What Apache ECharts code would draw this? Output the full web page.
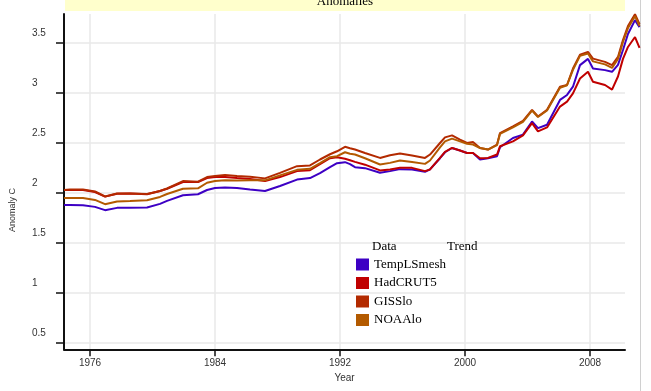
<!DOCTYPE html>
<html>
<head>
<meta charset="utf-8">
<script src="https://cdn.jsdelivr.net/npm/echarts@6/dist/echarts.min.js"></script>
<style>html,body{margin:0;padding:0;background:#fff}#c{width:651px;height:391px}</style>
</head>
<body>
<div id="c"></div>
<script>
const years = [1974.34,1974.72,1975.55,1976.32,1976.96,1977.73,1978.56,1979.65,1980.48,1980.93,1981.95,1982.91,1983.49,1984.00,1984.64,1985.41,1986.24,1987.20,1988.16,1989.25,1990.08,1990.72,1991.36,1991.81,1992.32,1992.64,1992.96,1993.60,1994.56,1995.20,1995.84,1996.61,1997.44,1997.76,1998.40,1998.72,1999.17,1999.68,2000.13,2000.51,2000.96,2001.47,2002.05,2002.24,2003.07,2003.71,2004.29,2004.67,2005.25,2006.08,2006.53,2006.91,2007.36,2007.87,2008.19,2008.96,2009.41,2009.79,2010.11,2010.43,2010.88,2011.17];
const tempLSmesh = [1.887,1.887,1.884,1.867,1.834,1.857,1.857,1.860,1.897,1.927,1.984,1.994,2.037,2.057,2.062,2.057,2.042,2.027,2.077,2.142,2.157,2.207,2.267,2.307,2.317,2.297,2.267,2.257,2.210,2.227,2.247,2.244,2.220,2.244,2.357,2.417,2.460,2.434,2.410,2.410,2.344,2.357,2.377,2.467,2.560,2.594,2.727,2.660,2.694,2.944,2.994,3.077,3.294,3.357,3.260,3.244,3.227,3.297,3.447,3.607,3.747,3.677];
const hadCRUT5 = [2.037,2.037,2.037,2.017,1.970,2.000,2.002,1.994,2.027,2.050,2.117,2.117,2.157,2.167,2.167,2.157,2.147,2.127,2.167,2.227,2.237,2.297,2.357,2.367,2.352,2.337,2.320,2.292,2.234,2.244,2.260,2.260,2.227,2.244,2.360,2.422,2.460,2.434,2.410,2.410,2.357,2.360,2.394,2.477,2.527,2.587,2.710,2.627,2.667,2.877,2.927,3.010,3.160,3.227,3.127,3.094,3.047,3.180,3.357,3.477,3.577,3.467];
const gisslo = [2.037,2.042,2.042,2.022,1.972,2.002,2.002,1.997,2.027,2.052,2.127,2.120,2.167,2.177,2.187,2.177,2.170,2.154,2.210,2.277,2.284,2.344,2.397,2.427,2.472,2.457,2.444,2.410,2.360,2.387,2.404,2.384,2.360,2.394,2.510,2.567,2.587,2.544,2.510,2.520,2.460,2.444,2.494,2.610,2.677,2.734,2.844,2.777,2.844,3.077,3.094,3.260,3.400,3.427,3.360,3.327,3.294,3.377,3.547,3.687,3.807,3.707];
const noaalo = [1.957,1.957,1.957,1.937,1.894,1.922,1.927,1.934,1.967,1.997,2.050,2.054,2.110,2.127,2.134,2.132,2.134,2.134,2.184,2.240,2.250,2.307,2.367,2.377,2.417,2.402,2.394,2.357,2.294,2.310,2.334,2.320,2.300,2.334,2.467,2.527,2.554,2.527,2.502,2.494,2.460,2.444,2.489,2.602,2.667,2.724,2.837,2.772,2.837,3.067,3.092,3.247,3.387,3.412,3.332,3.302,3.267,3.357,3.527,3.667,3.787,3.687];
const seriesNames = ['TempLSmesh','HadCRUT5','GISSlo','NOAAlo'];
const seriesColors = ['#3d00c4','#c00000','#b32a00','#b35a00'];
const yTicks = [0.5,1,1.5,2,2.5,3,3.5];
const xTicks = [1976,1984,1992,2000,2008];

const allData = [tempLSmesh, hadCRUT5, gisslo, noaalo];
const chart = echarts.init(document.getElementById('c'), null, {renderer:'canvas'});
const sans = 'Liberation Sans, Arial, sans-serif';
const serif = 'Liberation Serif, Times New Roman, serif';
// grid 0: visible axes; grid 1: same scale but wider, so lines run past the frame as in the reference
const xMin = 1974.336, xMax = 2010.24, yMin = 0.433, yMax = 3.787;
const pxPerYear = 561 / (xMax - xMin);
const pxPerUnit = (391 - 41.7 - 14) / (yMax - yMin);
const xMax2 = xMin + 576 / pxPerYear;
const yMax2 = 3.95;
const top2 = 14 - (yMax2 - yMax) * pxPerUnit;
chart.setOption({
  animation: false,
  backgroundColor: '#fff',
  grid: [
    {left: 64, top: 14, right: 26, bottom: 41.7, containLabel: false},
    {left: 64, top: top2, right: 11, bottom: 41.7, containLabel: false}
  ],
  legend: {
    data: seriesNames, orient: 'vertical', left: 356, top: 258, padding: 0,
    icon: 'rect', itemWidth: 13, itemHeight: 12, itemGap: 5.5,
    textStyle: {fontFamily: serif, fontSize: 13, color: '#000'}
  },
  xAxis: [{
    type: 'value', min: xMin, max: xMax, gridIndex: 0,
    name: 'Year', nameLocation: 'middle', nameGap: 22,
    nameTextStyle: {fontFamily: sans, fontSize: 10, color: '#333'},
    axisLine: {show: true, onZero: false, lineStyle: {color: '#111', width: 2}},
    axisTick: {show: true, length: 7, customValues: xTicks, lineStyle: {color: '#111', width: 1.5}},
    axisLabel: {customValues: xTicks, margin: 9, fontFamily: sans, fontSize: 10, color: '#333', formatter: v => String(Math.round(v))},
    splitLine: {show: true, lineStyle: {color: '#e8e8e8', width: 1.5}}
  }, {
    type: 'value', min: xMin, max: xMax2, gridIndex: 1, show: false
  }],
  yAxis: [{
    type: 'value', min: yMin, max: yMax, gridIndex: 0,
    axisLine: {show: true, onZero: false, lineStyle: {color: '#111', width: 2}},
    axisTick: {show: true, length: 8, customValues: yTicks, lineStyle: {color: '#111', width: 1.5}},
    axisLabel: {customValues: yTicks, margin: 32, align: 'left', verticalAlign: 'bottom', padding: [0,0,4,0], fontFamily: sans, fontSize: 10, color: '#333'},
    splitLine: {show: true, lineStyle: {color: '#e8e8e8', width: 1.5}}
  }, {
    type: 'value', min: yMin, max: yMax2, gridIndex: 1, show: false
  }],
  graphic: [
    {type: 'rect', left: 65, top: 0, shape: {width: 560, height: 11}, style: {fill: '#ffffcc'}, z: 1},
    {type: 'text', x: 345, y: 8, style: {text: 'Anomalies', font: '13px ' + serif, fill: '#000', textAlign: 'center', textVerticalAlign: 'bottom'}, z: 2},
    {type: 'line', shape: {x1: 640.5, y1: 0, x2: 640.5, y2: 391}, style: {stroke: '#d0d0d0', lineWidth: 1}, z: 0},
    {type: 'text', x: 13, y: 210, rotation: Math.PI / 2, style: {text: 'Anomaly C', font: '9px ' + sans, fill: '#333', textAlign: 'center', textVerticalAlign: 'middle'}},
    {type: 'text', x: 372, y: 247, z: 100, style: {text: 'Data', font: '13px ' + serif, fill: '#000', textAlign: 'left', textVerticalAlign: 'middle'}},
    {type: 'text', x: 447, y: 247, z: 100, style: {text: 'Trend', font: '13px ' + serif, fill: '#000', textAlign: 'left', textVerticalAlign: 'middle'}}
  ],
  series: seriesNames.map((n, k) => ({
    name: n, type: 'line', showSymbol: false, clip: false,
    xAxisIndex: 1, yAxisIndex: 1,
    data: years.map((y, i) => [y, allData[k][i]]),
    lineStyle: {color: seriesColors[k], width: 2},
    itemStyle: {color: seriesColors[k]},
    z: 3 + k
  }))
});
</script>
</body>
</html>
